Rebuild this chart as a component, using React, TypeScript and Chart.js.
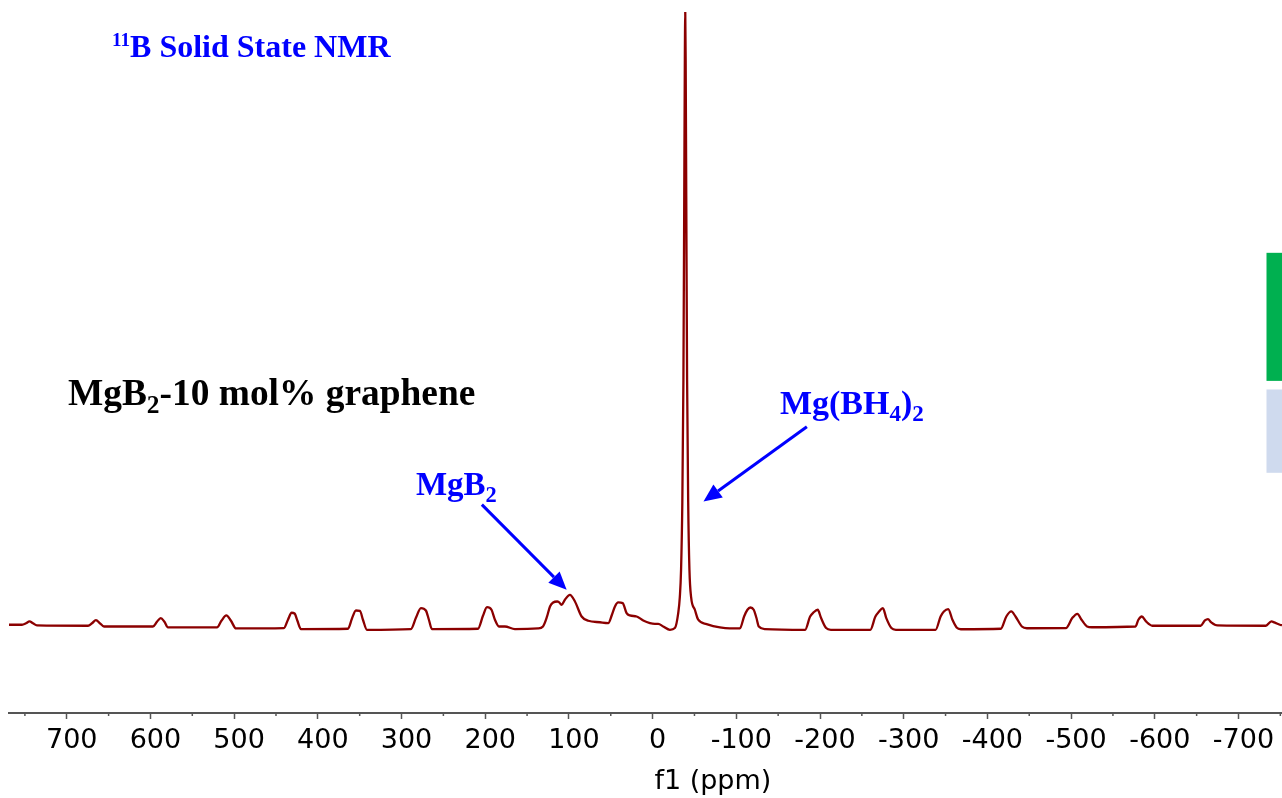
import React, { useEffect, useRef } from "react";
import { Chart, registerables } from "chart.js";

Chart.register(...registerables);

// 11B solid state NMR spectrum
// chemical shift (ppm)
const shiftPpm: number[] = [
  769.0, 753.5, 748.7, 744.5, 740.4, 735.6,
  674.6, 669.8, 665.1, 660.3, 655.5,
  597.0, 592.2, 587.7, 583.3, 579.1,
  520.5, 515.2, 509.3, 503.8, 497.8,
  440.5, 435.7, 431.3, 427.8, 424.4, 420.2,
  364.0, 359.3, 354.5, 349.7, 346.1, 341.3,
  288.8, 282.8, 276.8, 270.9, 267.3, 263.7,
  208.7, 202.7, 197.9, 192.5, 188.4, 183.6, 176.5, 164.5,
  137.0, 131.0, 126.2, 122.6, 118.8, 114.0, 112.0, 108.7, 104.8, 98.8, 92.8, 84.8, 76.9,
  63.0, 53.0, 48.6, 45.0, 41.1, 35.8, 31.1, 27.1, 19.1, 11.2, 3.2,
  -2.7, -6.7, -12.7, -20.7, -26.6, -30.6,
  -32.5, -34.0, -35.5, -36.8, -37.8, -38.5, -39.0, -39.5, -40.2, -41.2, -42.5, -44.0, -46.0,
  -50.5, -54.5, -64.5, -80.4, -92.4, -104.3,
  -109.3, -113.3, -116.8, -120.8, -124.0, -126.9, -134.4,
  -182.2, -188.2, -192.2, -197.3, -201.3, -207.3, -213.0,
  -260.1, -266.2, -270.1, -275.1, -279.2, -285.3, -290.7,
  -338.1, -344.1, -348.0, -353.2, -358.2, -363.2, -368.3,
  -416.0, -422.6, -428.6, -433.6, -441.2, -447.2,
  -493.8, -501.4, -507.5, -512.5, -519.1, -524.8,
  -576.9, -580.4, -584.5, -589.5, -597.0,
  -654.8, -659.9, -663.5, -667.4, -674.9,
  -732.7, -739.3, -742.9, -749.5, -752.0,
];

// intensity (a.u., Mg(BH4)2 peak = 100)
const intensity: number[] = [
  0.0, 0.0, 0.24, 0.54, 0.24, -0.11,
  -0.16, 0.24, 0.77, 0.24, -0.28,
  -0.28, 0.49, 1.09, 0.49, -0.44,
  -0.44, 0.65, 1.52, 0.65, -0.6,
  -0.54, 0.82, 1.96, 1.84, 0.65, -0.7,
  -0.65, 0.98, 2.33, 2.28, 0.82, -0.82,
  -0.7, 1.14, 2.72, 2.33, 0.82, -0.7,
  -0.65, 1.47, 2.89, 2.45, 0.82, -0.28, -0.28, -0.7,
  -0.6, -0.28, 1.31, 2.99, 3.64, 3.8, 3.7, 3.26, 4.08, 4.89, 3.8, 1.35, 0.65,
  0.41, 0.28, 1.63, 2.99, 3.64, 3.54, 1.91, 1.52, 1.35, 0.7, 0.28,
  0.16, 0.16, -0.28, -0.82, -0.54, 1.91,
  4.5, 9, 20, 40, 70, 92, 100, 92, 70, 40, 20, 9, 4.5,
  2.45, 0.82, 0.11, -0.44, -0.6, -0.6,
  1.35, 2.45, 2.82, 2.45, 1.14, -0.28, -0.7,
  -0.82, 1.35, 2.01, 2.45, 1.09, -0.54, -0.82,
  -0.82, 1.35, 2.07, 2.72, 1.09, -0.54, -0.82,
  -0.82, 1.35, 2.17, 2.56, 0.82, -0.44, -0.73,
  -0.65, 1.35, 2.17, 1.35, -0.28, -0.57,
  -0.54, 1.09, 1.79, 0.82, -0.28, -0.41,
  -0.28, 0.82, 1.35, 0.54, -0.16,
  -0.16, 0.7, 0.93, 0.38, -0.11,
  -0.16, 0.54, 0.38, 0.0, -0.08,
];

// axis ticks
const majorTickValues: number[] = [700, 600, 500, 400, 300, 200, 100, 0, -100, -200, -300, -400, -500, -600, -700];
const minorTickValues: number[] = [750, 650, 550, 450, 350, 250, 150, 50, -50, -150, -250, -350, -450, -550, -650, -750];
const axisTitle = "f1 (ppm)";

type Part = { text: string; mode: "normal" | "sub" | "sup" };

const titleParts: Part[] = [
  { text: "11", mode: "sup" },
  { text: "B Solid State NMR", mode: "normal" },
];
const sampleParts: Part[] = [
  { text: "MgB", mode: "normal" },
  { text: "2", mode: "sub" },
  { text: "-10 mol% graphene", mode: "normal" },
];
const mgb2Parts: Part[] = [
  { text: "MgB", mode: "normal" },
  { text: "2", mode: "sub" },
];
const mgbh4Parts: Part[] = [
  { text: "Mg(BH", mode: "normal" },
  { text: "4", mode: "sub" },
  { text: ")", mode: "normal" },
  { text: "2", mode: "sub" },
];

const SERIF = '"Liberation Serif", "Times New Roman", serif';
const SANS = '"DejaVu Sans", Verdana, sans-serif';

function drawRich(ctx: CanvasRenderingContext2D, parts: Part[], x: number, y: number, size: number, color: string) {
  ctx.save();
  ctx.fillStyle = color;
  ctx.textBaseline = "alphabetic";
  ctx.textAlign = "left";
  let cx = x;
  for (const p of parts) {
    let sz = size;
    let dy = 0;
    if (p.mode === "sub") {
      sz = size * 0.68;
      dy = size * 0.22;
    } else if (p.mode === "sup") {
      sz = size * 0.6;
      dy = -size * 0.33;
    }
    ctx.font = `bold ${sz}px ${SERIF}`;
    ctx.fillText(p.text, cx, y + dy);
    cx += ctx.measureText(p.text).width;
  }
  ctx.restore();
}

function drawArrow(ctx: CanvasRenderingContext2D, x1: number, y1: number, x2: number, y2: number, color: string) {
  const ang = Math.atan2(y2 - y1, x2 - x1);
  const headLen = 18;
  const headHalf = 8;
  const bx = x2 - headLen * Math.cos(ang);
  const by = y2 - headLen * Math.sin(ang);
  ctx.save();
  ctx.strokeStyle = color;
  ctx.fillStyle = color;
  ctx.lineWidth = 3;
  ctx.beginPath();
  ctx.moveTo(x1, y1);
  ctx.lineTo(bx, by);
  ctx.stroke();
  ctx.beginPath();
  ctx.moveTo(x2, y2);
  ctx.lineTo(bx + headHalf * Math.sin(ang), by - headHalf * Math.cos(ang));
  ctx.lineTo(bx - headHalf * Math.sin(ang), by + headHalf * Math.cos(ang));
  ctx.closePath();
  ctx.fill();
  ctx.restore();
}

const annotationPlugin = {
  id: "nmrAnnotations",
  afterDraw(chart: any) {
    const ctx: CanvasRenderingContext2D = chart.ctx;
    const xs = chart.scales.x;
    const ys = chart.scales.y;
    const px = (v: number) => xs.getPixelForValue(v);
    const py = (v: number) => ys.getPixelForValue(v);

    // minor ticks
    ctx.save();
    ctx.strokeStyle = "#555";
    ctx.lineWidth = 1.5;
    for (const v of minorTickValues) {
      const x = px(v);
      ctx.beginPath();
      ctx.moveTo(x, xs.top);
      ctx.lineTo(x, xs.top + 3);
      ctx.stroke();
    }
    // axis title
    ctx.fillStyle = "#000";
    ctx.font = `27px ${SANS}`;
    ctx.textAlign = "center";
    ctx.textBaseline = "middle";
    ctx.fillText(axisTitle, px(-72), xs.top + 69);
    ctx.restore();

    // texts
    drawRich(ctx, titleParts, px(646), py(92.7), 32, "#0000FF");
    drawRich(ctx, sampleParts, px(698.6), py(35.9), 37.4, "#000000");
    drawRich(ctx, mgb2Parts, px(282.8), py(21.2), 33, "#0000FF");
    drawRich(ctx, mgbh4Parts, px(-152.1), py(34.4), 34, "#0000FF");

    // arrows
    drawArrow(ctx, px(204), py(19.6), px(102.7), py(5.7), "#0000FF");
    drawArrow(ctx, px(-184.3), py(32.3), px(-60.8), py(20.1), "#0000FF");

    // side markers
    ctx.save();
    const right = chart.chartArea.right;
    ctx.fillStyle = "#00B050";
    ctx.fillRect(right - 15.5, py(60.7), 15.5, py(39.8) - py(60.7));
    ctx.fillStyle = "#CFDAEE";
    ctx.fillRect(right - 15.5, py(38.4), 15.5, py(24.8) - py(38.4));
    ctx.restore();
  },
};

export default function App() {
  const canvasRef = useRef<HTMLCanvasElement | null>(null);

  useEffect(() => {
    document.body.style.margin = "0";
    const canvas = canvasRef.current;
    if (!canvas) return;
    const chart = new Chart(canvas, {
      type: "line",
      data: {
        datasets: [
          {
            data: shiftPpm.map((s, i) => ({ x: s, y: intensity[i] })),
            borderColor: "#8B0000",
            borderWidth: 2.3,
            pointRadius: 0,
            cubicInterpolationMode: "monotone",
            fill: false,
          },
        ],
      },
      options: {
        animation: false,
        responsive: false,
        layout: { padding: { left: 9, right: 0, top: 12, bottom: 0 } },
        plugins: {
          legend: { display: false },
          tooltip: { enabled: false },
        },
        scales: {
          x: {
            type: "linear",
            reverse: true,
            min: -752,
            max: 769,
            position: "bottom",
            afterBuildTicks: (s: any) => {
              s.ticks = majorTickValues.map((v) => ({ value: v }));
            },
            afterFit: (s: any) => {
              s.height = 85;
            },
            border: { display: true, color: "#555", width: 2 },
            grid: { drawOnChartArea: false, drawTicks: true, tickLength: 6, tickColor: "#555", tickWidth: 1.5 },
            ticks: {
              font: { family: SANS, size: 27 },
              color: "#000",
              padding: 6,
              labelOffset: 5,
              maxRotation: 0,
              minRotation: 0,
              autoSkip: false,
              callback: (v: any) => String(v),
            },
            title: { display: false },
          },
          y: { display: false, min: -14.4, max: 100 },
        },
      } as any,
      plugins: [annotationPlugin],
    });
    return () => chart.destroy();
  }, []);

  return (
    <div style={{ width: 1282, height: 798 }}>
      <canvas ref={canvasRef} width={1282} height={798} style={{ display: "block" }} />
    </div>
  );
}
